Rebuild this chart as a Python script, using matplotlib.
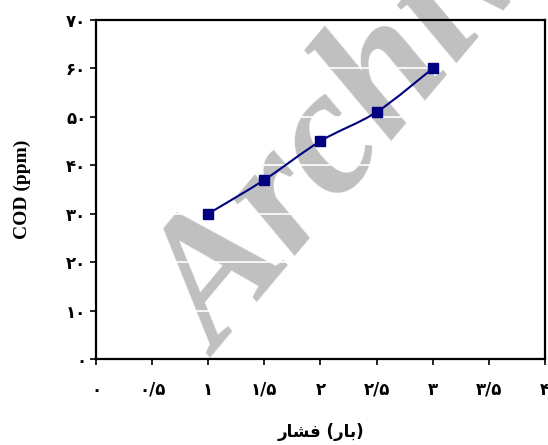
import matplotlib
matplotlib.use("Agg")
import matplotlib.pyplot as plt
from matplotlib.path import Path
from matplotlib.patches import PathPatch
import numpy as np

# pressure (bar) vs COD (ppm)
pressure = [1, 1.5, 2, 2.5, 3]
cod = [30, 37, 45, 51, 60]

x_ticks = [0, 0.5, 1, 1.5, 2, 2.5, 3, 3.5, 4]
x_labels = ["۰", "۰/۵", "۱", "۱/۵", "۲", "۲/۵", "۳", "۳/۵", "۴"]
y_ticks = [0, 10, 20, 30, 40, 50, 60, 70]
y_labels = ["۰", "۱۰", "۲۰", "۳۰", "۴۰", "۵۰", "۶۰", "۷۰"]

# "فشار (بار)" written out in shaped presentation forms, left to right
x_title = "\uFEAD\uFE8E\uFEB8\uFED3 (\uFEAD\uFE8E\uFE91)"

fig = plt.figure(figsize=(5.48, 4.45), dpi=100)
ax = fig.add_axes([0.1752, 0.1933, 0.8193, 0.7617])
ax.patch.set_alpha(0)

# background watermark
fig.text(0.400, 0.196, "Archive of SID", fontsize=130, color="#c0c0c0",
         family="Liberation Serif", weight="bold", style="italic",
         rotation=50, rotation_mode="anchor", ha="left", va="baseline",
         zorder=-1)

# smoothed line through the points (cubic bezier, catmull-rom style)
px = np.array(pressure, dtype=float)
py = np.array(cod, dtype=float)
verts = [(px[0], py[0])]
codes = [Path.MOVETO]
for i in range(len(px) - 1):
    p0 = np.array([px[max(i - 1, 0)], py[max(i - 1, 0)]])
    p1 = np.array([px[i], py[i]])
    p2 = np.array([px[i + 1], py[i + 1]])
    p3 = np.array([px[min(i + 2, len(px) - 1)], py[min(i + 2, len(px) - 1)]])
    c1 = p1 + (p2 - p0) / 6
    c2 = p2 - (p3 - p1) / 6
    verts += [tuple(c1), tuple(c2), tuple(p2)]
    codes += [Path.CURVE4] * 3
ax.add_patch(PathPatch(Path(verts, codes), fc="none", ec="#000080", lw=1.5, zorder=3))
ax.plot(pressure, cod, ls="none", marker="s", ms=7.5, color="#000080", zorder=4)

ax.set_xlim(0, 4)
ax.set_ylim(0, 70)
ax.set_xticks(x_ticks)
ax.set_xticklabels(x_labels)
ax.set_yticks(y_ticks)
ax.set_yticklabels(y_labels)
ax.yaxis.grid(True, color="white", lw=1.2)
ax.set_axisbelow(True)

for lab in ax.get_xticklabels() + ax.get_yticklabels():
    lab.set_family("DejaVu Sans")
    lab.set_weight("bold")
    lab.set_fontsize(12)
ax.tick_params(direction="out", length=4.5, width=1.2, colors="black")
ax.tick_params(axis="x", pad=11)
ax.tick_params(axis="y", pad=2.5)
for s in ax.spines.values():
    s.set_linewidth(1.6)
    s.set_color("black")

fig.text(0.585, 0.03, x_title, ha="center", va="center",
         family="DejaVu Sans", weight="bold", fontsize=12)
fig.text(0.04, 0.574, "COD (ppm)", rotation=90, ha="center", va="center",
         family="Liberation Serif", weight="bold", fontsize=14)

fig.savefig("out.png", dpi=100)
